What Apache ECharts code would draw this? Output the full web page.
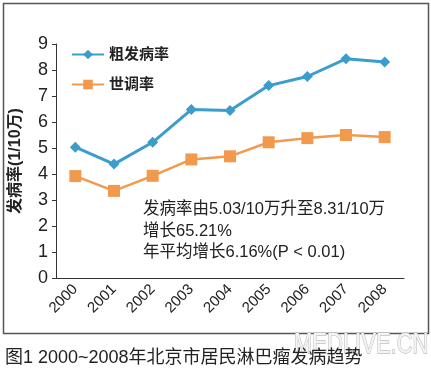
<!DOCTYPE html>
<html>
<head>
<meta charset="utf-8">
<script src="https://cdn.jsdelivr.net/npm/echarts@6/dist/echarts.min.js"></script>
<style>
  html, body { margin: 0; padding: 0; background: #fff; }
  #chart { width: 431px; height: 375px; }
</style>
</head>
<body>
<div id="chart"></div>
<script>
// 年份
const years = ['2000', '2001', '2002', '2003', '2004', '2005', '2006', '2007', '2008']
// 粗发病率
const crudeRate = [5.03, 4.38, 5.22, 6.48, 6.44, 7.4, 7.75, 8.43, 8.31]
// 世调率
const standardRate = [3.92, 3.35, 3.93, 4.56, 4.68, 5.22, 5.38, 5.5, 5.42]
const yTicks = [0, 9, 1]
const noteLines = ['发病率由5.03/10万升至8.31/10万', '增长65.21%', '年平均增长6.16%(P < 0.01)']
const caption = '图1 2000~2008年北京市居民淋巴瘤发病趋势'

const font = '"Liberation Sans", "Noto Sans CJK SC", sans-serif'
const charts = echarts.init(document.getElementById('chart'))
const option = {
	animation: false,
	textStyle: { fontFamily: font },
	grid: { left: 53, right: 27, top: 44, bottom: 97 },
	legend: {
		orient: 'vertical',
		left: 66,
		top: 42,
		itemWidth: 32,
		itemHeight: 12,
		itemGap: 15,
		textStyle: { fontSize: 15, color: '#222', fontWeight: 'bold', fontFamily: font },
		data: ['粗发病率', '世调率']
	},
	xAxis: {
		type: 'category',
		data: years,
		axisLine: { lineStyle: { color: '#333', width: 1 } },
		axisTick: { lineStyle: { color: '#333' }, length: 4 },
		axisLabel: { rotate: 45, fontSize: 15, color: '#222', margin: 9, interval: 0 }
	},
	yAxis: {
		type: 'value',
		min: yTicks[0],
		max: yTicks[1],
		interval: yTicks[2],
		name: '发病率(1/10万)',
		nameLocation: 'middle',
		nameGap: 32,
		nameTextStyle: { fontSize: 16, color: '#222', fontWeight: 'bold' },
		axisLine: { show: true, lineStyle: { color: '#333', width: 1 } },
		axisTick: { show: true, length: 4, lineStyle: { color: '#333' } },
		axisLabel: { fontSize: 18, color: '#222', margin: 8 },
		splitLine: { show: false }
	},
	series: [
		{
			name: '粗发病率',
			type: 'line',
			data: crudeRate,
			symbol: 'diamond',
			symbolSize: 11,
			color: '#3a9dcc',
			lineStyle: { width: 3, color: '#3a9dcc' }
		},
		{
			name: '世调率',
			type: 'line',
			data: standardRate,
			symbol: 'rect',
			symbolSize: 12,
			color: '#f19a4e',
			lineStyle: { width: 2.5, color: '#f19a4e' }
		}
	],
	graphic: [
		{
			type: 'rect',
			shape: { x: 3.5, y: 3.5, width: 425, height: 330 },
			style: { fill: 'none', stroke: '#555', lineWidth: 1.5 },
			silent: true
		},
		{
			type: 'text',
			left: 143,
			top: 199,
			style: {
				text: noteLines.join('\n'),
				font: '16.5px ' + font,
				lineHeight: 21.5,
				fill: '#222'
			}
		},
		{
			type: 'text',
			x: 294,
			y: 331,
			scaleY: 1.3,
			style: {
				text: 'MEDLIVE.CN',
				font: '22px "Liberation Sans", sans-serif',
				fill: '#f4f4f4',
				stroke: '#bdbdbd',
				lineWidth: 1
			}
		},
		{
			type: 'text',
			left: 5,
			top: 349,
			style: {
				text: caption,
				font: '18px ' + font,
				fill: '#222'
			}
		}
	]
}
charts.setOption(option)
</script>
</body>
</html>
